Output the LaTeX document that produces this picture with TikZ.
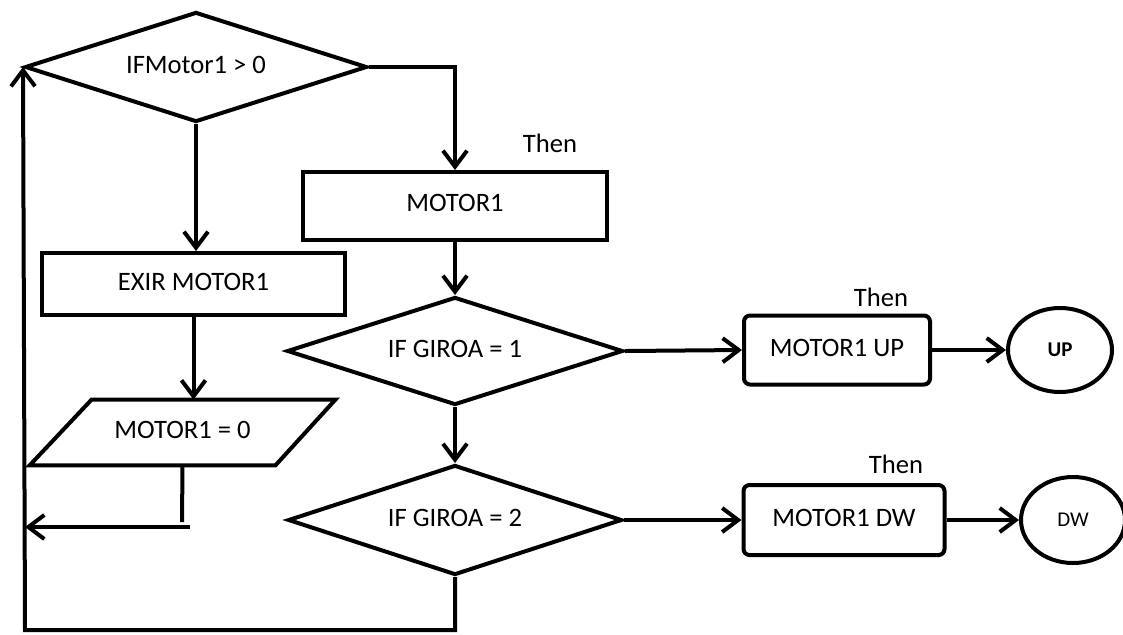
\documentclass[tikz,border=0pt]{standalone}
\usepackage{fontspec}
\setmainfont{Carlito}
\usetikzlibrary{shapes.geometric,arrows.meta}
\newcommand\uptxt[1]{\raisebox{2.5pt}{#1}}
\begin{document}
\begin{tikzpicture}[x=0.5pt,y=-0.5pt,
  every node/.style={font=\fontsize{13.3}{15}\selectfont, inner sep=0pt, text=black},
  ln/.style={line width=2pt, draw=black, line join=miter},
  arr/.style={ln, -{Straight Barb[length=8pt,width=12pt,line width=2pt]}},
  dec/.style={ln, diamond, shape aspect=3, minimum width=#1, minimum height=55pt},
  boxa/.style={ln, rectangle},
  rbox/.style={ln, rectangle, rounded corners=3pt},
  term/.style={ln, ellipse, minimum width=52pt, minimum height=42pt}
]
\useasboundingbox (0,0) rectangle (1123,634);

% decisions
\node[dec=171pt] (d1) at (196,67) {\uptxt{IFMotor1 > 0}};
\node[dec=168pt, minimum height=54pt] (d2) at (455,351) {\uptxt{IF GIROA = 1}};
\node[dec=167pt] (d3) at (455,520) {\uptxt{IF GIROA = 2}};

% boxes
\node[boxa, minimum width=152pt, minimum height=34pt] (m1) at (455,206) {\raisebox{3pt}{MOTOR1}};
\node[boxa, minimum width=151.5pt, minimum height=31pt] (exir) at (193.5,284) {\uptxt{EXIR MOTOR1}};
\node[minimum width=152.5pt, minimum height=32.5pt] (par) at (182.5,432.5) {\uptxt{MOTOR1 = 0}};
\draw[ln] ([xshift=31pt]par.north west) -- (par.north east) -- ([xshift=-30pt]par.south east) -- (par.south west) -- cycle;

\node[rbox, minimum width=93pt, minimum height=34.5pt] (mup) at (837,350) {\uptxt{MOTOR1 UP}};
\node[rbox, minimum width=100.5pt, minimum height=35pt] (mdw) at (844,520) {\uptxt{MOTOR1 DW}};

\node[term, font=\fontsize{10.5}{12}\selectfont\bfseries] (up) at (1060,350) {UP};
\node[term, minimum height=43pt, font=\fontsize{10.5}{12}\selectfont] (dw) at (1073,520) {DW};

% labels
\node (t1) at (550,143) {Then};
\node (t2) at (881,297) {Then};
\node (t3) at (896,464) {Then};

% coordinates
\coordinate (c1) at (182,522);
\coordinate (c2) at (190,527);
\coordinate (back) at (25,527);
\coordinate (bl) at (25,630);

% connectors
\draw[arr] (d1.east) -| (m1.north);
\draw[arr] (m1.south) -- (d2.north);
\draw[arr] (d2.south) -- (d3.north);
\draw[arr] (d2.east) -- (mup.west);
\draw[arr] (mup.east) -- (up.west);
\draw[arr] (d3.east) -- (mdw.west);
\draw[arr] (mdw.east) -- (dw.west);
\draw[arr] (d1.south) -- (d1.south |- exir.north);
\draw[arr] (exir.south) -- (exir.south |- par.north);
\draw[ln] (par.south) -- (c1);
\draw[arr] (c2) -- (back);
\draw[arr] (d3.south) |- (bl) -- (d1.west);
\end{tikzpicture}
\end{document}
